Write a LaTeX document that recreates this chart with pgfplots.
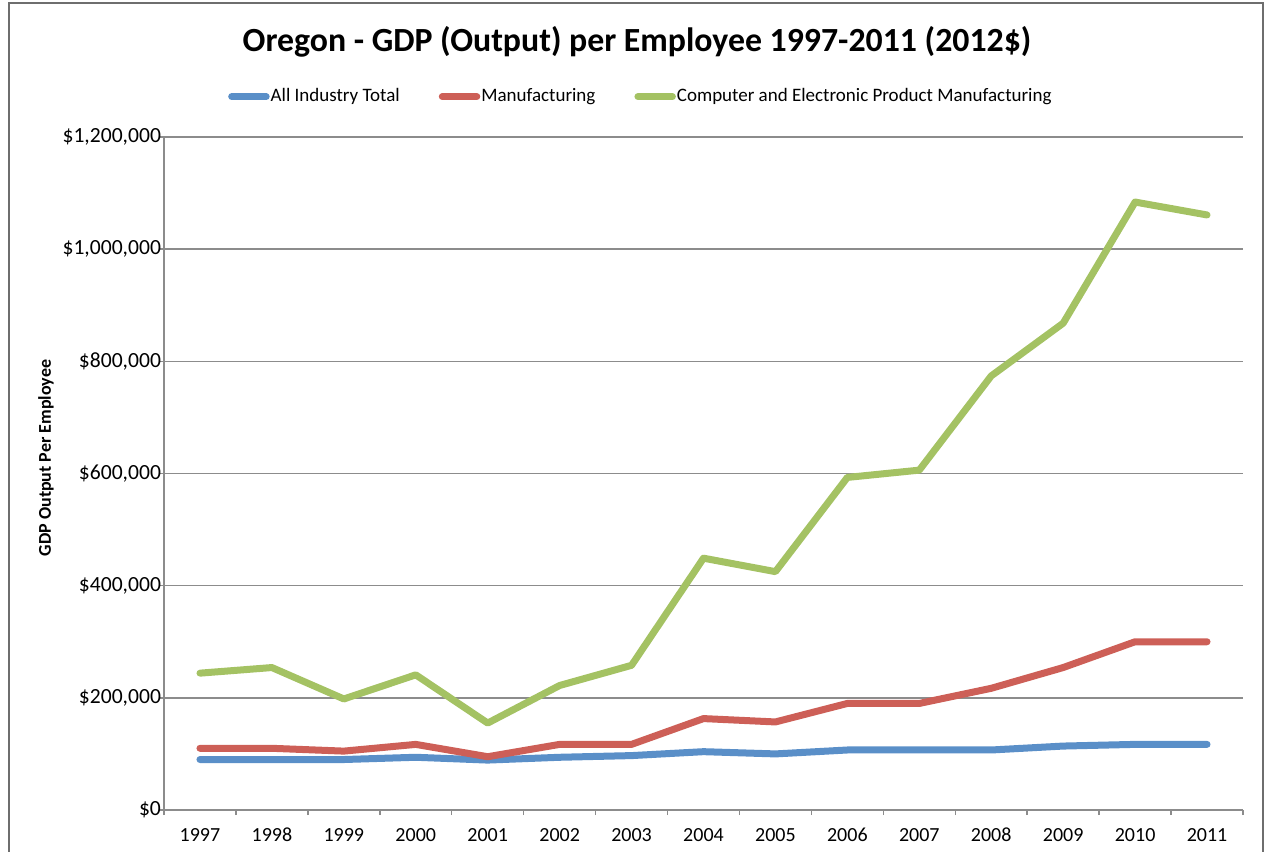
\documentclass[border=0pt]{standalone}
\usepackage{fontspec}
\setmainfont{Carlito}
\usepackage{pgfplots}
\pgfplotsset{compat=1.18}
\definecolor{cblue}{HTML}{5A8FC8}
\definecolor{cred}{HTML}{CD5F57}
\definecolor{cgreen}{HTML}{A4C263}
\definecolor{axgray}{HTML}{8C8C8C}
\definecolor{bordergray}{HTML}{6E6E6E}
\begin{document}
\begin{tikzpicture}
\useasboundingbox (0pt,0pt) rectangle (635pt,426pt);
\draw[bordergray, line width=0.75pt] (4.5pt,-2pt) -- (4.5pt,424.5pt) -- (631.5pt,424.5pt) -- (631.5pt,-2pt);
\begin{axis}[
  at={(82pt,21pt)}, anchor=south west,
  scale only axis, width=539.5pt, height=336.5pt,
  xmin=-0.5, xmax=14.5, ymin=0, ymax=1200000,
  axis x line=bottom, axis y line=left,
  axis line style={-, draw=axgray, line width=0.75pt},
  tick align=outside,
  xtick={0,...,14},
  xticklabels={1997,1998,1999,2000,2001,2002,2003,2004,2005,2006,2007,2008,2009,2010,2011},
  major x tick style={draw=none},
  minor xtick={-0.5,0.5,...,14.5},
  minor tick length=2.5pt, major tick length=2.5pt,
  every tick/.style={axgray, line width=0.75pt},
  ytick={0,200000,400000,600000,800000,1000000,1200000},
  scaled y ticks=false,
  yticklabel={\$\pgfmathprintnumber[fixed,1000 sep={,},assume math mode=true]{\tick}},
  /pgf/number format/assume math mode=true,
  xticklabel style={font=\fontsize{10}{12}\selectfont, text=black, yshift=-3pt},
  yticklabel style={font=\fontsize{10.8}{13}\selectfont, text=black},
  yticklabel shift=-4.5pt,
  ymajorgrids, grid style={axgray, line width=0.75pt},
  title={Oregon - GDP (Output) per Employee 1997-2011 (2012\$)},
  title style={font=\fontsize{16.9}{19}\bfseries, at={(axis description cs:0.4384,1.1234)}, anchor=center},
  ylabel={GDP Output Per Employee},
  ylabel style={font=\fontsize{9}{10}\bfseries, at={(axis description cs:-0.1094,0.523)}, anchor=center, rotate=0},
  legend columns=3,
  legend style={draw=none, fill=none, at={(axis description cs:0.4415,1.060)}, anchor=center,
    font=\fontsize{9.5}{11}\selectfont,
    /tikz/every odd column/.append style={column sep=0pt},
    /tikz/every even column/.append style={column sep=19pt},
    nodes={inner sep=0.5pt}},
  legend image code/.code={\draw[#1, line width=3.5pt, line cap=round] (1.75pt,0pt) -- (19pt,0pt);},
  every axis plot/.append style={line width=3.5pt, line join=round, line cap=round, mark=none},
  clip=false,
]
\addplot[cblue] coordinates {(0,90000) (1,90000) (2,90000) (3,94000) (4,89000) (5,94000) (6,97000) (7,104000) (8,100000) (9,107000) (10,107000) (11,107000) (12,114000) (13,117000) (14,117000)};
\addlegendentry{All Industry Total}
\addplot[cred] coordinates {(0,110000) (1,110000) (2,105000) (3,117000) (4,95000) (5,117000) (6,117000) (7,163000) (8,157000) (9,190000) (10,190000) (11,217000) (12,254000) (13,300000) (14,300000)};
\addlegendentry{Manufacturing}
\addplot[cgreen] coordinates {(0,244000) (1,254000) (2,198000) (3,241000) (4,155000) (5,222000) (6,258000) (7,449000) (8,425000) (9,593000) (10,606000) (11,774000) (12,868000) (13,1084000) (14,1061000)};
\addlegendentry{Computer and Electronic Product Manufacturing}
\end{axis}
\end{tikzpicture}
\end{document}
